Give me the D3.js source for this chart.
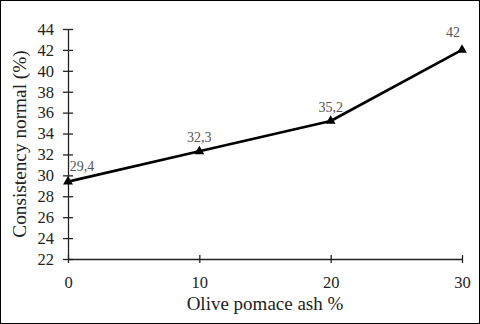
<!DOCTYPE html>
<html>
<head>
<meta charset="utf-8">
<script src="https://cdn.jsdelivr.net/npm/d3@7"></script>
<style>
  body { margin: 0; background: #fff; }
  svg { display: block; }
  text { font-family: "Liberation Serif", "Times New Roman", serif; }
</style>
</head>
<body>
<div class="chart"></div>
<script>
// DATA ------------------------------------**
const ashPct = [0, 10, 20, 30];
const consistency = [29.4, 32.3, 35.2, 42];
const pointLabels = ['29,4', '32,3', '35,2', '42'];
const yTicks = [22, 24, 26, 28, 30, 32, 34, 36, 38, 40, 42, 44];
const xTicks = [0, 10, 20, 30];

// CHART INIT ------------------------------**
const W = 480, H = 324;
const margin = {top: 29, right: 18, bottom: 65, left: 68};
const width = W - margin.left - margin.right;
const height = H - margin.top - margin.bottom;

const root = d3.select('.chart').append('svg')
    .attr('width', W)
    .attr('height', H);

// outer frame
root.append('rect')
    .attr('x', 0.5).attr('y', 0.5)
    .attr('width', W - 1).attr('height', H - 1)
    .attr('fill', 'none')
    .attr('stroke', '#000');

const svg = root.append('g')
    .attr('transform', 'translate(' + margin.left + ',' + margin.top + ')');

let xScale = d3.scaleLinear().domain([0, 30]).range([0, width]);
let yScale = d3.scaleLinear().domain([22, 44]).range([height, 0]);

// axes
let xAxis = d3.axisBottom(xScale).tickValues(xTicks)
    .tickSizeInner(4).tickSizeOuter(0).tickPadding(10)
    .tickFormat(d3.format('d'));
let yAxis = d3.axisLeft(yScale).tickValues(yTicks)
    .tickSizeInner(5).tickSizeOuter(0).tickPadding(9)
    .tickFormat(d3.format('d'));

let xAxisGroup = svg.append('g')
    .attr('class', 'axis x-axis')
    .attr('transform', 'translate(0,' + height + ')')
    .call(xAxis);

let yAxisGroup = svg.append('g')
    .attr('class', 'axis y-axis')
    .call(yAxis);

// ticks cross the axis line
xAxisGroup.selectAll('.tick line').attr('y1', -4).attr('y2', 4);
yAxisGroup.selectAll('.tick line').attr('x1', -5).attr('x2', 5);

svg.selectAll('.axis .domain').attr('stroke', '#222').attr('stroke-width', 1.3);
svg.selectAll('.axis .tick line').attr('stroke', '#222').attr('stroke-width', 1.3);
svg.selectAll('.axis text')
    .attr('fill', '#222')
    .style('font-size', '16.5px');
xAxisGroup.selectAll('text').attr('dy', '0.9em');

// axis titles
svg.append('text')
    .attr('x', width / 2)
    .attr('y', height + 51)
    .attr('text-anchor', 'middle')
    .attr('fill', '#222')
    .style('font-size', '19px')
    .text('Olive pomace ash %');

svg.append('text')
    .attr('transform', 'translate(' + (-42) + ',' + (height / 2) + ') rotate(-90)')
    .attr('text-anchor', 'middle')
    .attr('fill', '#222')
    .style('font-size', '19.3px')
    .text('Consistency normal (%)');

// line
const data = ashPct.map((x, i) => ({x: x, y: consistency[i], label: pointLabels[i]}));

svg.append('path')
    .datum(data)
    .attr('fill', 'none')
    .attr('stroke', '#000')
    .attr('stroke-width', 2.6)
    .attr('stroke-linejoin', 'round')
    .attr('d', d3.line().x(d => xScale(d.x)).y(d => yScale(d.y)));

// markers
svg.selectAll('.marker')
    .data(data)
    .enter()
    .append('path')
    .attr('class', 'marker')
    .attr('d', d3.symbol().type(d3.symbolTriangle).size(42))
    .attr('transform', d => 'translate(' + xScale(d.x) + ',' + yScale(d.y) + ')')
    .attr('fill', '#000');

// data labels
svg.selectAll('.dlabel')
    .data(data)
    .enter()
    .append('text')
    .attr('class', 'dlabel')
    .attr('x', (d, i) => xScale(d.x) + (i === 0 ? 14 : (i === data.length - 1 ? -9 : 0)))
    .attr('y', (d, i) => yScale(d.y) - (i === 0 ? 11 : (i === data.length - 1 ? 13 : 9)))
    .attr('text-anchor', 'middle')
    .attr('fill', '#555')
    .style('font-size', '14px')
    .text(d => d.label);
</script>
</body>
</html>
